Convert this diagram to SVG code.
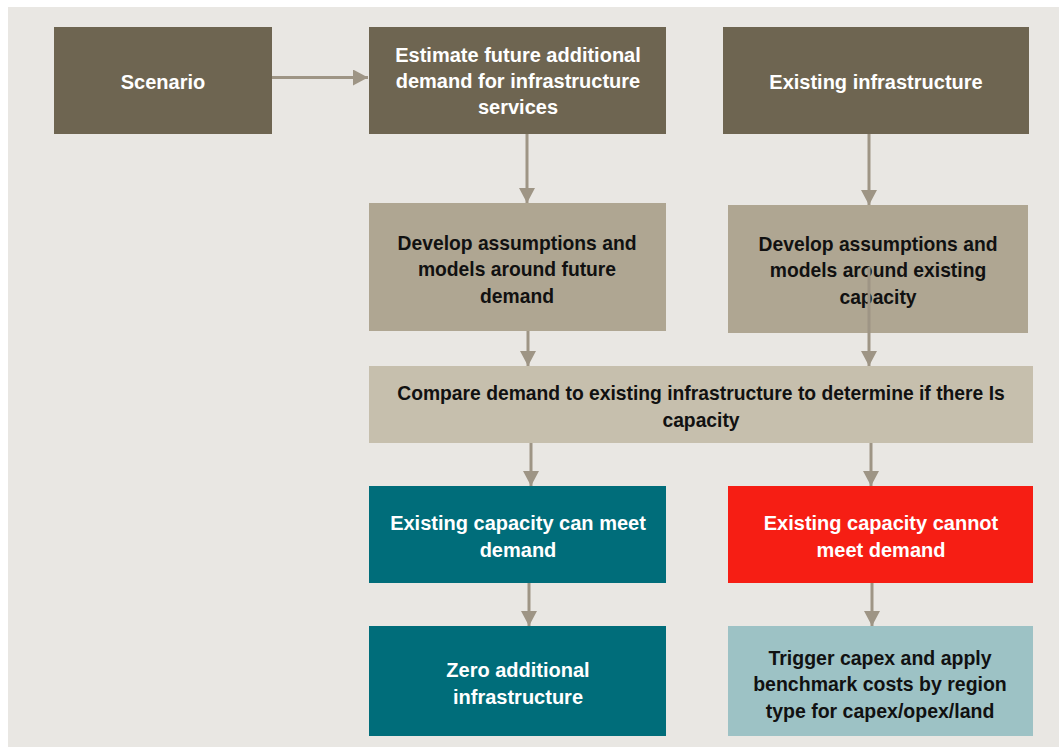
<svg xmlns="http://www.w3.org/2000/svg" width="1059" height="747" viewBox="0 0 1059 747">
<style>
.w{font-family:"Liberation Sans",Arial,sans-serif;font-weight:bold;font-size:20px;fill:#ffffff;text-anchor:middle}
.k{font-family:"Liberation Sans",Arial,sans-serif;font-weight:bold;font-size:19.3px;fill:#111111;text-anchor:middle}
.kk{font-family:"Liberation Sans",Arial,sans-serif;font-weight:bold;font-size:19.5px;fill:#111111;text-anchor:middle}
.c{stroke:#9E9585;stroke-width:3;fill:none;marker-end:url(#ah)}
</style>
<defs>
<marker id="ah" markerUnits="userSpaceOnUse" markerWidth="16" markerHeight="16" refX="15" refY="8" orient="auto">
<path d="M0,0 L15,8 L0,16 Z" fill="#9E9585"/>
</marker>
</defs>
<rect x="0" y="0" width="1059" height="747" fill="#ffffff"/>
<rect x="8" y="7" width="1051" height="740" fill="#E9E7E3"/>

<g id="scenario"><rect x="54" y="27" width="218" height="107" fill="#6E6551"/><text class="w" x="163" y="89">Scenario</text></g>
<g id="estimate"><rect x="369" y="27" width="297" height="107" fill="#6E6551"/>
<text class="w" x="518" y="62">Estimate future additional</text><text class="w" x="518" y="88">demand for infrastructure</text><text class="w" x="518" y="114">services</text></g>
<g id="existing"><rect x="723" y="27" width="306" height="107" fill="#6E6551"/><text class="w" x="876" y="89">Existing infrastructure</text></g>
<g id="dev-future"><rect x="369" y="203" width="297" height="128" fill="#AFA692"/>
<text class="k" x="517" y="250">Develop assumptions and</text><text class="k" x="517" y="276">models around future</text><text class="k" x="517" y="303">demand</text></g>
<g id="dev-existing"><rect x="728" y="205" width="300" height="128" fill="#AFA692"/>
<text class="k" x="878" y="251">Develop assumptions and</text><text class="k" x="878" y="277">models around existing</text><text class="k" x="878" y="304">capacity</text></g>
<g id="compare"><rect x="369" y="366" width="664" height="77" fill="#C6BFAD"/>
<text class="k" x="701" y="400">Compare demand to existing infrastructure to determine if there Is</text><text class="k" x="701" y="427">capacity</text></g>
<g id="can-meet"><rect x="369" y="486" width="297" height="97" fill="#006D7A"/>
<text class="w" x="518" y="530">Existing capacity can meet</text><text class="w" x="518" y="557">demand</text></g>
<g id="cannot-meet"><rect x="728" y="486" width="305" height="97" fill="#F61E14"/>
<text class="w" x="881" y="530">Existing capacity cannot</text><text class="w" x="881" y="557">meet demand</text></g>
<g id="zero"><rect x="369" y="626" width="297" height="110" fill="#006D7A"/>
<text class="w" x="518" y="677">Zero additional</text><text class="w" x="518" y="704">infrastructure</text></g>
<g id="trigger"><rect x="728" y="626" width="305" height="110" fill="#9DC2C5"/>
<text class="kk" x="880" y="665">Trigger capex and apply</text><text class="kk" x="880" y="691">benchmark costs by region</text><text class="kk" x="880" y="718">type for capex/opex/land</text></g>

<g id="connectors">
<line class="c" x1="272" y1="77.5" x2="368" y2="77.5"/>
<line class="c" x1="527" y1="134" x2="527" y2="203"/>
<line class="c" x1="869" y1="134" x2="869" y2="205"/>
<line class="c" x1="869" y1="267" x2="869" y2="366"/>
<line class="c" x1="528" y1="331" x2="528" y2="366"/>
<line class="c" x1="531" y1="443" x2="531" y2="486"/>
<line class="c" x1="871" y1="443" x2="871" y2="486"/>
<line class="c" x1="529" y1="583" x2="529" y2="626"/>
<line class="c" x1="872" y1="583" x2="872" y2="626"/>
</g>
</svg>
